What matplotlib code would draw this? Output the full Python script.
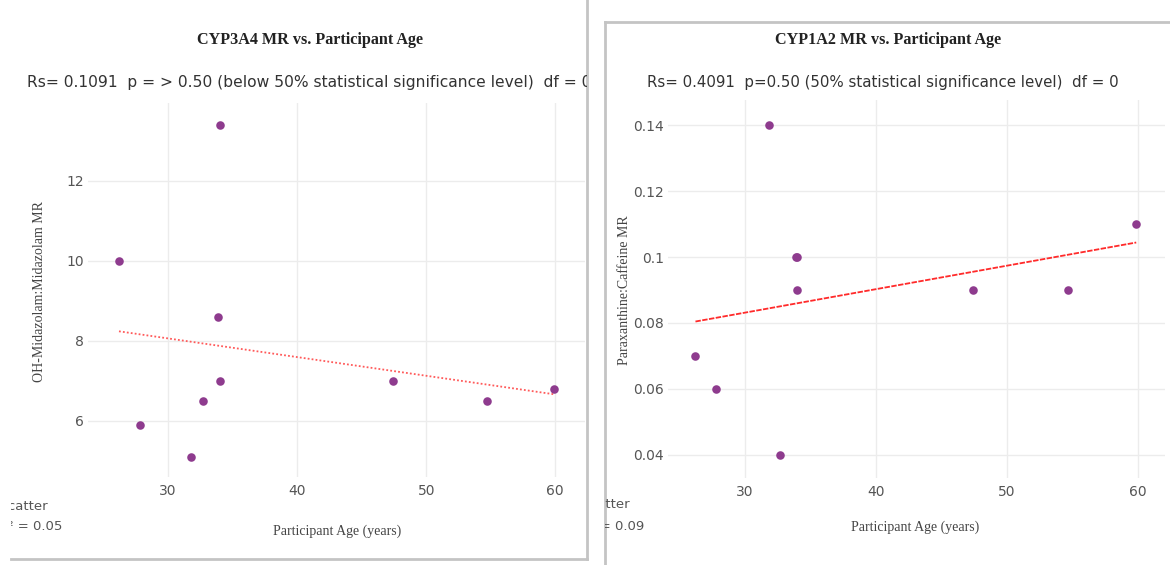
import numpy as np
import matplotlib
matplotlib.use("Agg")
import matplotlib.pyplot as plt

W, H = 1170, 565

# Participant ages (years) and metabolic ratios
age = [26.2, 27.8, 31.8, 32.7, 33.9, 34.0, 34.0, 47.4, 54.7, 59.9]
cyp3a4_mr = [10.0, 5.9, 5.1, 6.5, 8.6, 13.4, 7.0, 7.0, 6.5, 6.8]
cyp1a2_mr = [0.07, 0.06, 0.14, 0.04, 0.10, 0.10, 0.09, 0.09, 0.09, 0.11]

x_ticks = [30, 40, 50, 60]
cyp3a4_ticks = [6, 8, 10, 12]
cyp1a2_ticks = [0.04, 0.06, 0.08, 0.1, 0.12, 0.14]
cyp1a2_ticklabels = ["0.04", "0.06", "0.08", "0.1", "0.12", "0.14"]

titles = ["CYP3A4 MR vs. Participant Age", "CYP1A2 MR vs. Participant Age"]
stats = [
    "Rs= 0.1091  p = > 0.50 (below 50% statistical significance level)  df = 0",
    "Rs= 0.4091  p=0.50 (50% statistical significance level)  df = 0",
]
ylabels = ["OH-Midazolam:Midazolam MR", "Paraxanthine:Caffeine MR"]
r2_labels = ["R\u00b2 = 0.05", "R\u00b2 = 0.09"]

MARKER = "#8e3b8e"
GRID = "#ececec"
BORDER = "#c4c4c4"
TICK = "#555555"
SERIF = "Liberation Serif"
SANS = "DejaVu Sans"


def rect(x0, y0, x1, y1):
    return [x0 / W, 1 - y1 / H, (x1 - x0) / W, (y1 - y0) / H]


fig = plt.figure(figsize=(W / 100, H / 100), dpi=100)
fig.patch.set_facecolor("white")


def panel(x0, y0, x1, y1, sides):
    ax = fig.add_axes(rect(x0, y0, x1, y1), zorder=0)
    ax.set_xlim(x0, x1)
    ax.set_ylim(y1, y0)
    ax.set_xticks([])
    ax.set_yticks([])
    ax.patch.set_alpha(0)
    for s, sp in ax.spines.items():
        sp.set_visible(s in sides)
        sp.set_color(BORDER)
        sp.set_linewidth(2)
    return ax


def scatter_axes(x0, y0, x1, y1, x, y, xlim, ylim, yticks, yticklabels, line_style):
    ax = fig.add_axes(rect(x0, y0, x1, y1), zorder=1)
    ax.patch.set_alpha(0)
    ax.scatter(x, y, s=38, color=MARKER, zorder=3, linewidths=0)
    slope, icpt = np.polyfit(x, y, 1)
    xs = np.array([min(x), max(x)])
    ax.plot(xs, slope * xs + icpt, zorder=2, **line_style)
    ax.set_xlim(*xlim)
    ax.set_ylim(*ylim)
    ax.set_xticks(x_ticks)
    ax.set_yticks(yticks)
    ax.set_yticklabels(yticklabels)
    ax.grid(True, color=GRID, linewidth=1)
    ax.set_axisbelow(True)
    for sp in ax.spines.values():
        sp.set_visible(False)
    ax.tick_params(length=0, labelsize=10, labelcolor=TICK)
    ax.tick_params(axis="y", pad=3)
    ax.tick_params(axis="x", pad=5)
    return ax


# Left panel: CYP3A4
pl = panel(11, -20, 587, 559, {"right", "bottom"})
scatter_axes(88, 103, 585, 477, age, cyp3a4_mr, (23.8, 62.3), (4.6, 13.95),
             cyp3a4_ticks, [str(t) for t in cyp3a4_ticks],
             dict(color="#ff5a5a", linewidth=1.3, linestyle=(0, (1, 1.2))))
pl.text(310, 40, titles[0], family=SERIF, fontweight="bold", fontsize=11.6,
        ha="center", va="center", color="#222222")
pl.text(27, 82, stats[0], family=SANS, fontsize=11.2, ha="left", va="center",
        color="#333333", clip_on=True)
pl.text(40, 292, ylabels[0], family=SERIF, fontsize=10, rotation=90,
        ha="center", va="center", color="#444444")
pl.text(337, 531, "Participant Age (years)", family=SERIF, fontsize=10,
        ha="center", va="center", color="#444444")
pl.text(1, 506, "scatter", family=SANS, fontsize=9.5, ha="left", va="center",
        color="#555555", clip_on=True)
pl.text(-1, 527, r2_labels[0], family=SANS, fontsize=9.5, ha="left", va="center",
        color="#555555", clip_on=True)

# Right panel: CYP1A2
pr = panel(605, 22, 1200, 600, {"left", "top"})
scatter_axes(668, 100, 1165, 478, age, cyp1a2_mr, (24.1, 62.1), (0.033, 0.1476),
             cyp1a2_ticks, cyp1a2_ticklabels,
             dict(color="#ff2a2a", linewidth=1.3, linestyle=(0, (3, 0.8))))
pr.text(888, 40, titles[1], family=SERIF, fontweight="bold", fontsize=11.6,
        ha="center", va="center", color="#222222")
pr.text(883, 82, stats[1], family=SANS, fontsize=10.8, ha="center", va="center",
        color="#333333", clip_on=True)
pr.text(624, 290, ylabels[1], family=SERIF, fontsize=10, rotation=90,
        ha="center", va="center", color="#444444")
pr.text(915, 527, "Participant Age (years)", family=SERIF, fontsize=10,
        ha="center", va="center", color="#444444")
pr.text(583, 504, "scatter", family=SANS, fontsize=9.5, ha="left", va="center",
        color="#555555", clip_on=True)
pr.text(581, 526, r2_labels[1], family=SANS, fontsize=9.5, ha="left", va="center",
        color="#555555", clip_on=True)

fig.savefig("out.png", dpi=100, facecolor="white")
